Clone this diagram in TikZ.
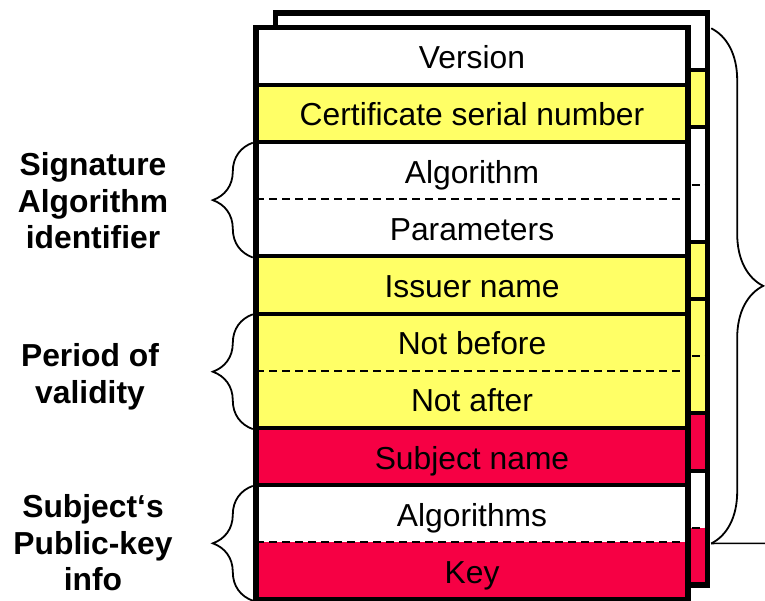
\documentclass[tikz,border=0pt]{standalone}
\usepackage{fontspec}
\setmainfont{Liberation Sans}
\usetikzlibrary{decorations.pathreplacing}
\definecolor{amarillo}{RGB}{255,255,102}
\definecolor{rojo}{RGB}{246,0,68}
\newcommand{\Tarjeta}{%
  \foreach \n/\relleno in {0/white,1/amarillo,2/white,3/white,4/amarillo,5/amarillo,6/amarillo,7/rojo,8/white,9/rojo} {
    \fill[\relleno] (256,{27.5+57.2*\n}) rectangle (688,{27.5+57.2*(\n+1)});
  }
  \foreach \n in {1,2,4,5,7,8} {
    \draw[line width=4pt] (256,{27.5+57.2*\n}) -- (688,{27.5+57.2*\n});
  }
  \foreach \n in {3,6,9} {
    \draw[line width=2pt,dash pattern=on 8pt off 5pt] (256,{27.5+57.2*\n}) -- (688,{27.5+57.2*\n});
  }
  \draw[line width=5.5pt] (256,27.5) rectangle (688,599.5);
}

\begin{document}
\begin{tikzpicture}[x=1pt,y=-1pt,
    campo/.style={minimum width=432pt,minimum height=57.2pt,inner sep=0pt,
      text height=23pt,text depth=0pt,font=\fontsize{31.8}{36}\selectfont},
    etiqueta/.style={align=center,font=\fontsize{31.8}{36.5}\selectfont\bfseries},
    llave/.style={decorate,decoration={brace,amplitude=#1},line width=1.8pt}]
    \useasboundingbox (0,0) rectangle (765,600);

    % tarjeta de atras
    \begin{scope}[shift={(19.5,-14.5)}]
      \Tarjeta
    \end{scope}
    % tarjeta de delante
    \Tarjeta

    \foreach \n/\nombre/\texto in {0/version/Version,1/serie/Certificate serial number,
        2/algoritmo/Algorithm,3/parametros/Parameters,4/emisor/Issuer name,
        5/noantes/Not before,6/nodespues/Not after,7/sujeto/Subject name,
        8/algoritmos/Algorithms,9/key/Key} {
      \node[campo] (\nombre) at (472,{27.5+57.2*(\n+0.5)+1}) {\texto};
    }

    \node[etiqueta] (firma) at (93,201) {Signature\\Algorithm\\identifier};
    \node[etiqueta] (validez) at (90,377) {Period of\\validity};
    \node[etiqueta] (clave) at (93,543) {Subject‘s\\Public-key\\info};

    \draw[llave=40pt] ([xshift=-3pt]parametros.south west) -- ([xshift=-3pt]algoritmo.north west);
    \draw[llave=40pt] ([xshift=-3pt]nodespues.south west) -- ([xshift=-3pt]noantes.north west);
    \draw[llave=40pt] ([xshift=-3pt]key.south west) -- ([xshift=-3pt]algoritmos.north west);

    \draw[llave=52pt] ([xshift=23pt]version.north east) -- ([xshift=23pt]algoritmos.south east);
    \coordinate (fin) at (765,543.3);
    \draw[line width=1.5pt] ([xshift=23pt]algoritmos.south east) -- (fin);
\end{tikzpicture}
\end{document}
